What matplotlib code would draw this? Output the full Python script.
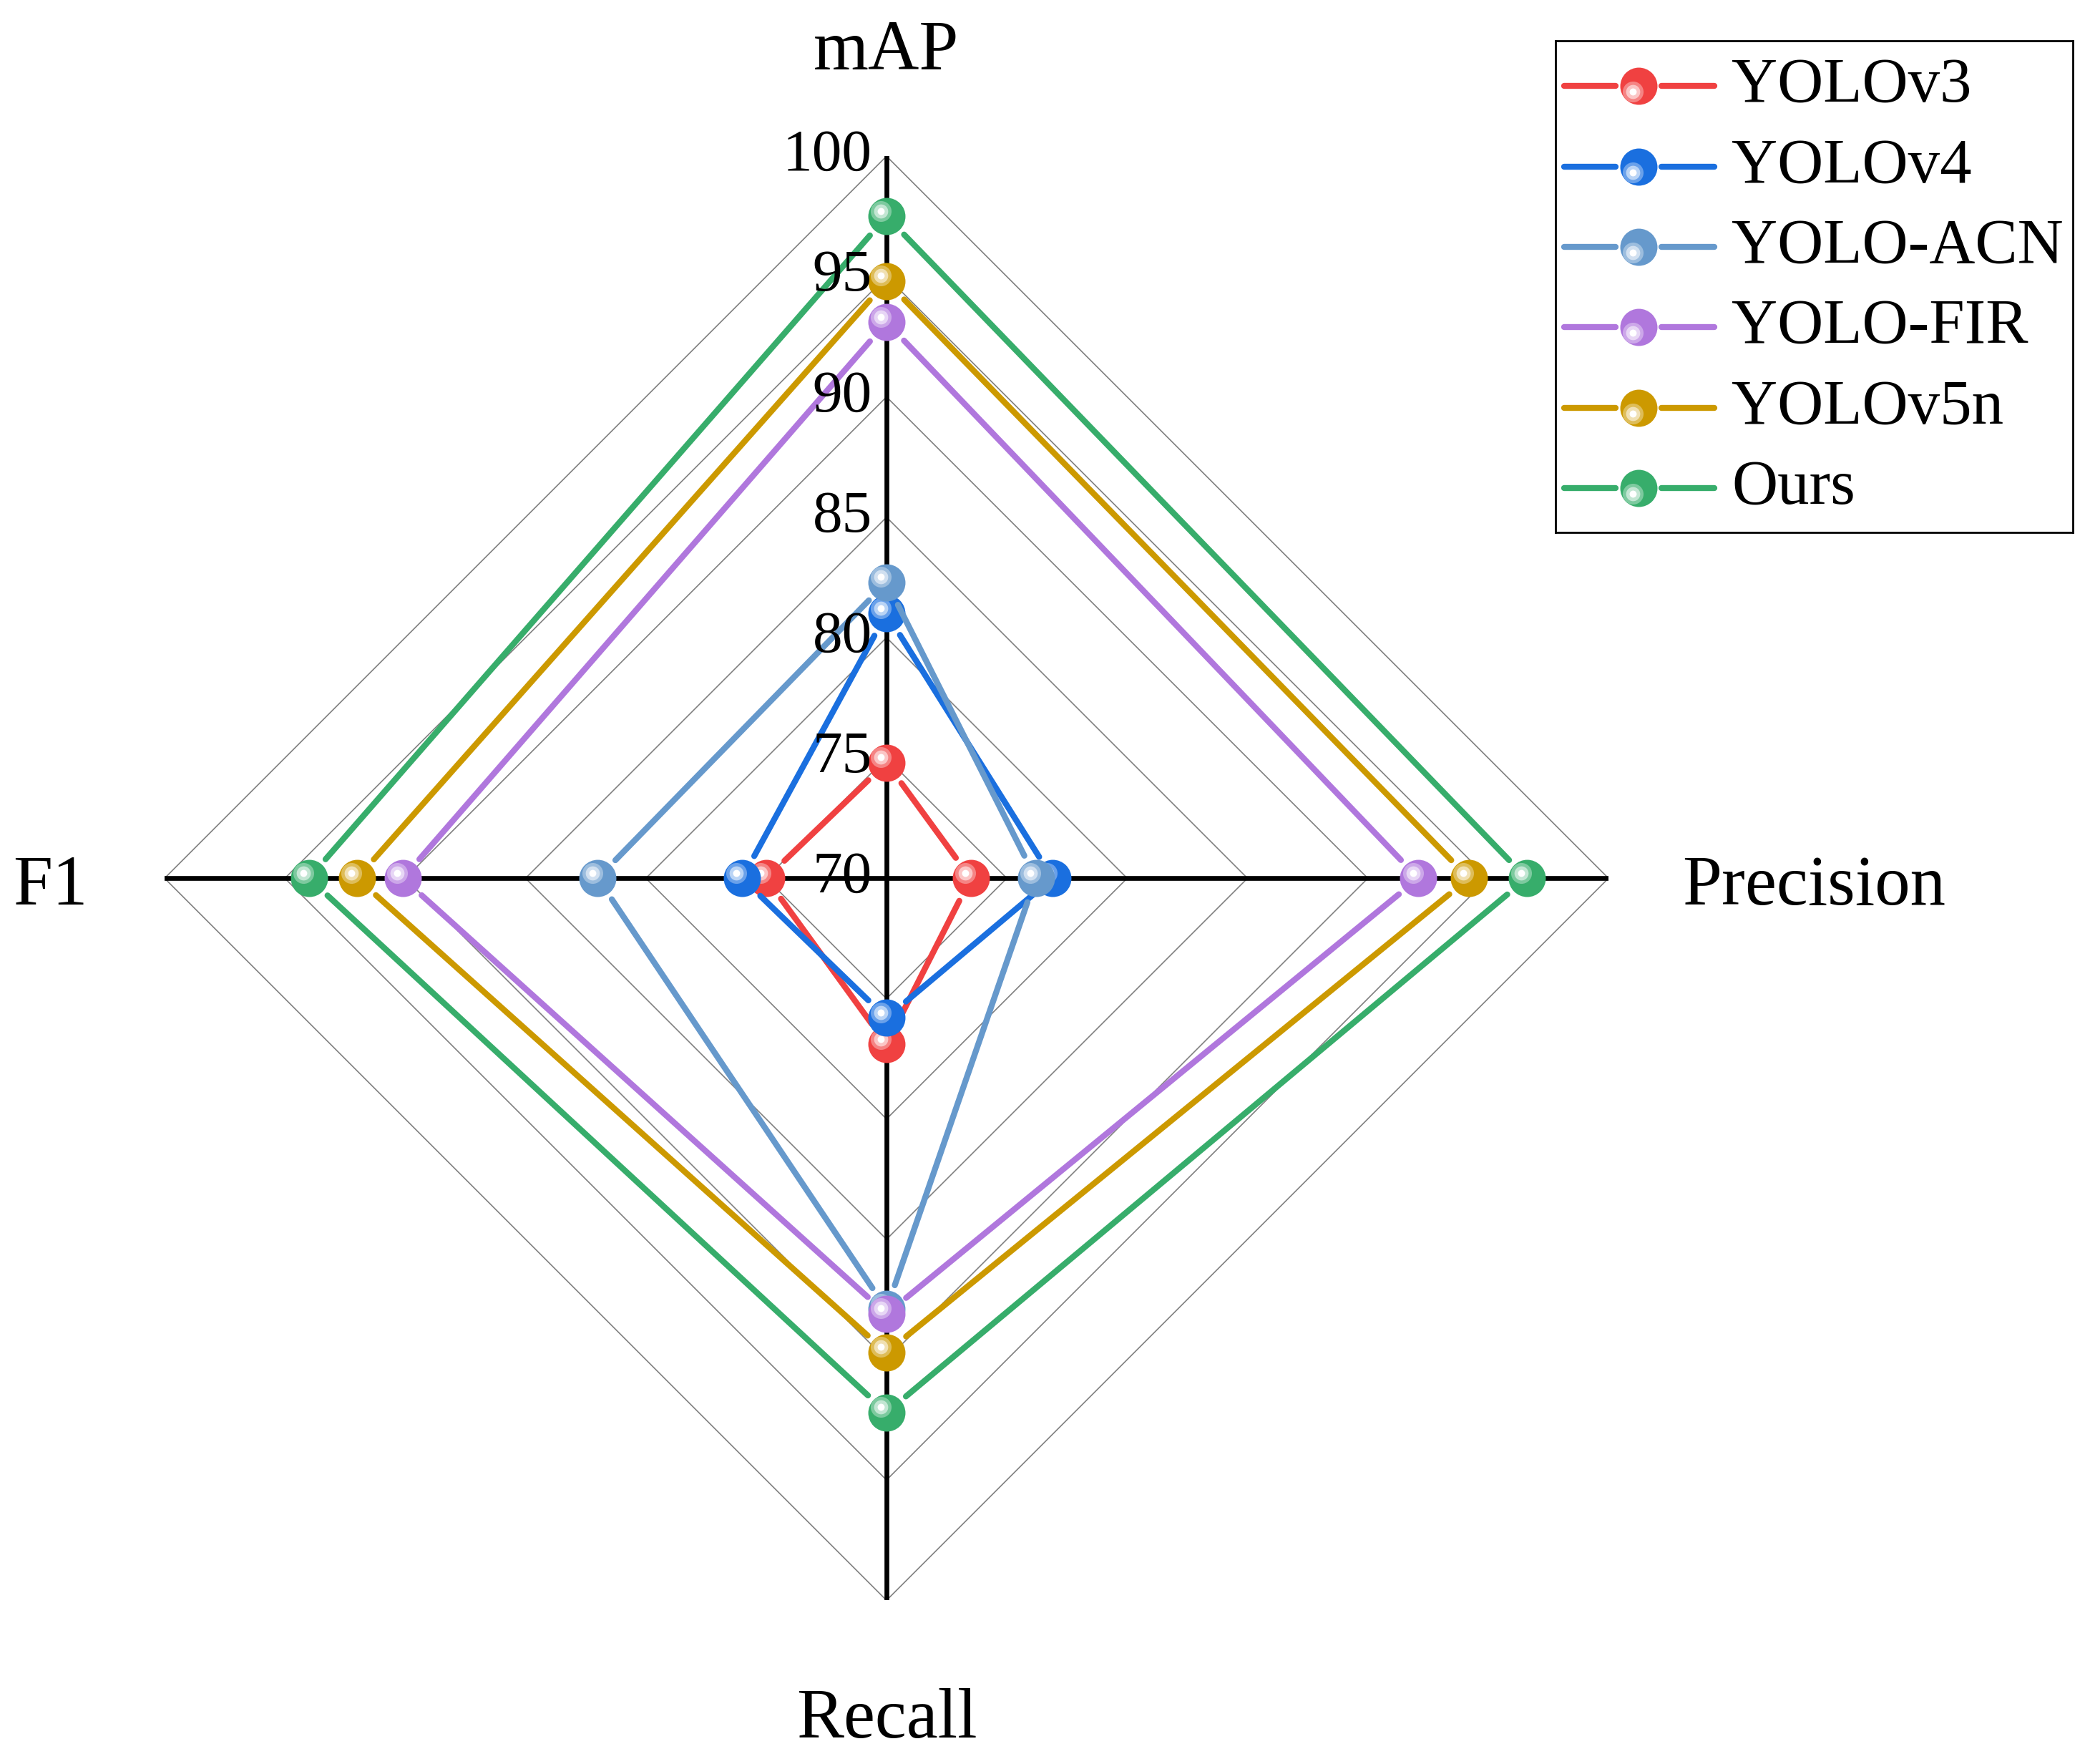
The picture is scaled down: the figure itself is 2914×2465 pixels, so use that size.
import numpy as np
import matplotlib.pyplot as plt

plt.rcParams['font.family'] = ['Liberation Serif', 'DejaVu Serif']

# data
metrics = ["mAP", "Precision", "Recall", "F1"]
models = ["YOLOv3", "YOLOv4", "YOLO-ACN", "YOLO-FIR", "YOLOv5n", "Ours"]
yolov3 = [74.8, 73.5, 76.9, 75.0]
yolov4 = [81.0, 76.9, 75.8, 76.0]
yolo_acn = [82.3, 76.2, 87.9, 82.0]
yolo_fir = [93.1, 92.1, 88.1, 90.1]
yolov5n = [94.8, 94.2, 89.7, 92.0]
ours = [97.5, 96.6, 92.2, 94.0]
series = [yolov3, yolov4, yolo_acn, yolo_fir, yolov5n, ours]
ticks = [70, 75, 80, 85, 90, 95, 100]

colors = ['#F04141', '#1A6FDF', '#6699CC', '#B077DD', '#CC9900', '#37AD6B']

base = ticks[0]
rmax = ticks[-1] - base
angles = np.deg2rad([90, 0, -90, 180])


def lighten(c, f):
    rgb = np.array(plt.matplotlib.colors.to_rgb(c))
    return tuple(rgb + (1 - rgb) * f)


def ball(ax, x, y, c, z, ms=18.7, off=0.23):
    # sphere-like marker: base disc plus lighter rings for the glint
    ax.plot(x, y, 'o', ms=ms, color=c, mec='none', zorder=z)
    ax.plot(x - off, y + off, 'o', ms=ms * 0.56, color=lighten(c, 0.35), mec='none', zorder=z + 0.01)
    ax.plot(x - off, y + off, 'o', ms=ms * 0.38, color=lighten(c, 0.7), mec='none', zorder=z + 0.02)
    ax.plot(x - off, y + off, 'o', ms=ms * 0.19, color='white', mec='none', zorder=z + 0.03)


fig = plt.figure(figsize=(14.57, 12.325), dpi=200)
W, H = 2914, 2465
cx, cy, R = 1239, 1227.3, 1009
ax = fig.add_axes([(cx - R) / W, (H - cy - R) / H, 2 * R / W, 2 * R / H])
ax.set_xlim(-rmax, rmax)
ax.set_ylim(-rmax, rmax)
ax.axis('off')

# diamond grid
for t in ticks[1:]:
    r = t - base
    ax.plot([0, r, 0, -r, 0], [r, 0, -r, 0, r], color='#808080', lw=0.6, zorder=1)
ax.plot([-rmax, rmax], [0, 0], color='black', lw=2.4, zorder=2)
ax.plot([0, 0], [-rmax, rmax], color='black', lw=2.4, zorder=2)

for t in ticks:
    ax.text(-0.6, t - base, str(t), ha='right', va='center', fontsize=30, zorder=20)

ax.text(0, 33.6, metrics[0], ha='center', va='baseline', fontsize=35.6)
ax.text(33.06, -1.08, metrics[1], ha='left', va='baseline', fontsize=35.6)
ax.text(0, -35.7, metrics[2], ha='center', va='baseline', fontsize=35.6)
ax.text(-34.75, -1.08, metrics[3], ha='center', va='baseline', fontsize=35.6)

gap = 1.05
for k, (vals, c) in enumerate(zip(series, colors)):
    r = np.array(vals) - base
    xs = r * np.cos(angles)
    ys = r * np.sin(angles)
    z = 3 + k
    for i in range(4):
        p = np.array([xs[i], ys[i]])
        q = np.array([xs[(i + 1) % 4], ys[(i + 1) % 4]])
        u = (q - p) / np.linalg.norm(q - p)
        a, b = p + u * gap, q - u * gap
        ax.plot([a[0], b[0]], [a[1], b[1]], color=c, lw=3.0,
                solid_capstyle='round', zorder=z)
    ball(ax, xs, ys, c, z + 0.5)

# legend box
lx0, ly0, lx1, ly1 = 2174, 57, 2897, 744
lg = fig.add_axes([lx0 / W, (H - ly1) / H, (lx1 - lx0) / W, (ly1 - ly0) / H])
lg.set_xlim(0, lx1 - lx0)
lg.set_ylim(ly1 - ly0, 0)
lg.set_xticks([])
lg.set_yticks([])
for s in lg.spines.values():
    s.set_linewidth(1.0)
rows = [63, 176, 288, 400, 513, 625]
for name, c, yy in zip(models, colors, rows):
    lg.plot([12, 84], [yy, yy], color=c, lw=3.0, solid_capstyle='round')
    lg.plot([148, 222], [yy, yy], color=c, lw=3.0, solid_capstyle='round')
    ball(lg, 116, yy, c, 5, off=7.7)
    lg.text(246, yy, name, ha='left', va='center', fontsize=32)

fig.savefig('out.png', dpi=200)
